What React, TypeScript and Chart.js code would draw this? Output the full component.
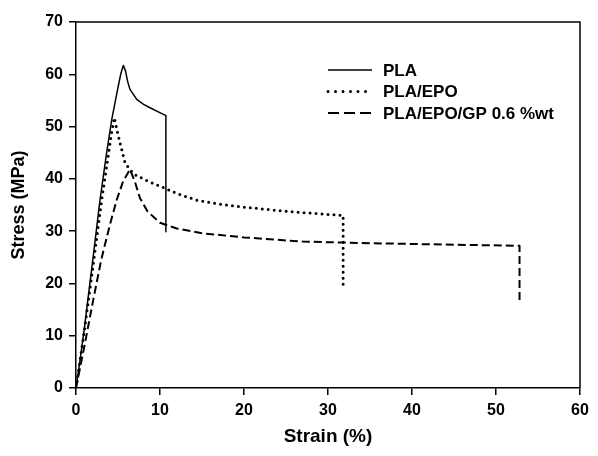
import React, { useEffect, useRef } from "react";
import { Chart, registerables } from "chart.js";

Chart.register(...registerables);

// ---- Data ----
const seriesNames = ["PLA", "PLA/EPO", "PLA/EPO/GP 0.6 %wt"];

const plaStrain = [0, 0.5, 1, 2, 2.86, 3.6, 4.25, 5.0, 5.35, 5.63, 5.9, 6.15, 6.43, 7.23, 8.0, 8.81, 9.8, 10.7, 10.7];
const plaStress = [0, 5.5, 11.5, 24.5, 36, 44.5, 51.3, 57.5, 60.2, 61.7, 60.6, 58.6, 57.1, 55.2, 54.3, 53.6, 52.8, 52.1, 29.9];

const epoStrain = [0, 1, 2, 3.06, 3.8, 4.2, 4.56, 4.85, 5.24, 5.83, 6.4, 7.02, 8.5, 10, 12, 14.4, 17, 20, 23, 26.7, 29, 31.8, 31.8];
const epoStress = [0, 11, 23, 36, 44, 48.5, 51.7, 49.5, 46.9, 43.1, 41.8, 40.8, 39.6, 38.6, 37.2, 35.9, 35.2, 34.6, 34.1, 33.6, 33.3, 33.0, 19.4];

const gpStrain = [0, 1, 2.06, 3, 4, 4.85, 5.6, 6.43, 7.0, 7.62, 8.5, 10, 12, 15, 20, 27, 35, 45, 52.8, 52.8];
const gpStress = [0, 8, 16.9, 24.5, 31, 36, 39.5, 41.8, 39.5, 36.3, 33.8, 31.6, 30.5, 29.6, 28.8, 28.0, 27.7, 27.4, 27.2, 16.2];

const xTickValues = [0, 10, 20, 30, 40, 50, 60];
const yTickValues = [0, 10, 20, 30, 40, 50, 60, 70];

const toPoints = (xs: number[], ys: number[]) => xs.map((x, i) => ({ x, y: ys[i] }));

const lineStyles = [
  { borderWidth: 1.5, borderDash: [] as number[], cap: "butt" as CanvasLineCap },
  { borderWidth: 3, borderDash: [0, 6], cap: "round" as CanvasLineCap },
  { borderWidth: 2, borderDash: [8, 4], cap: "butt" as CanvasLineCap },
];

const FONT = "'Liberation Sans', Arial, sans-serif";

const framePlugin = {
  id: "frame",
  afterDraw(chart: any) {
    const { ctx, chartArea } = chart;
    ctx.save();
    ctx.strokeStyle = "#000";
    ctx.lineWidth = 1.5;
    ctx.beginPath();
    ctx.moveTo(chartArea.left, chartArea.top);
    ctx.lineTo(chartArea.right, chartArea.top);
    ctx.lineTo(chartArea.right, chartArea.bottom);
    ctx.stroke();
    ctx.restore();
  },
};

const legendPlugin = {
  id: "customLegend",
  afterDraw(chart: any) {
    const { ctx } = chart;
    const x0 = 328;
    const x1 = 372;
    const tx = 383;
    const rows = [70, 91.5, 113];
    ctx.save();
    seriesNames.forEach((name, i) => {
      const st = lineStyles[i];
      const y = rows[i];
      ctx.beginPath();
      ctx.strokeStyle = "#000";
      ctx.lineWidth = st.borderWidth;
      ctx.lineCap = st.cap;
      ctx.setLineDash(i === 1 ? [0, 7.5] : i === 2 ? [11, 5] : []);
      ctx.moveTo(x0, y);
      ctx.lineTo(x1, y);
      ctx.stroke();
      ctx.setLineDash([]);
      ctx.fillStyle = "#000";
      ctx.font = `bold 17px ${FONT}`;
      ctx.textBaseline = "middle";
      ctx.textAlign = "left";
      ctx.fillText(name, tx, y + 1);
    });
    ctx.restore();
  },
};

export default function App() {
  const ref = useRef<HTMLCanvasElement | null>(null);

  useEffect(() => {
    if (!ref.current) return;
    const seriesData = [
      toPoints(plaStrain, plaStress),
      toPoints(epoStrain, epoStress),
      toPoints(gpStrain, gpStress),
    ];
    const tickFont = { family: FONT, size: 16, weight: "bold" as const };
    const chart = new Chart(ref.current, {
      type: "scatter",
      data: {
        datasets: seriesData.map((d, i) => ({
          label: seriesNames[i],
          data: d,
          showLine: true,
          borderColor: "#000",
          backgroundColor: "#000",
          borderWidth: lineStyles[i].borderWidth,
          borderDash: lineStyles[i].borderDash,
          borderCapStyle: lineStyles[i].cap,
          borderJoinStyle: "round",
          pointRadius: 0,
          pointHoverRadius: 0,
          tension: 0,
          fill: false,
        })),
      },
      options: {
        responsive: false,
        animation: false,
        events: [],
        layout: { padding: { top: 22, right: 18, left: 0, bottom: 0 } },
        plugins: {
          legend: { display: false },
          tooltip: { enabled: false },
        },
        scales: {
          x: {
            type: "linear",
            min: 0,
            max: 60,
            afterBuildTicks: (scale: any) => {
              scale.ticks = xTickValues.map((v) => ({ value: v }));
            },
            afterFit: (scale: any) => {
              scale.height = 68;
            },
            ticks: { color: "#000", font: tickFont, padding: 6, maxRotation: 0 },
            grid: {
              display: true,
              drawOnChartArea: false,
              drawTicks: true,
              tickLength: 7,
              color: "#000",
              lineWidth: 1.5,
            },
            border: { display: true, color: "#000", width: 1.5 },
            title: {
              display: true,
              text: "Strain (%)",
              color: "#000",
              font: { family: FONT, size: 19, weight: "bold" },
              padding: { top: 0, bottom: 8 },
            },
          },
          y: {
            type: "linear",
            min: 0,
            max: 70,
            afterBuildTicks: (scale: any) => {
              scale.ticks = yTickValues.map((v) => ({ value: v }));
            },
            afterFit: (scale: any) => {
              scale.width = 76;
            },
            ticks: { color: "#000", font: tickFont, padding: 6 },
            grid: {
              display: true,
              drawOnChartArea: false,
              drawTicks: true,
              tickLength: 7,
              color: "#000",
              lineWidth: 1.5,
            },
            border: { display: true, color: "#000", width: 1.5 },
            title: {
              display: true,
              text: "Stress (MPa)",
              color: "#000",
              font: { family: FONT, size: 18, weight: "bold" },
              padding: { top: 8, bottom: 0 },
            },
          },
        },
      },
      plugins: [framePlugin, legendPlugin],
    });
    return () => chart.destroy();
  }, []);

  return (
    <div style={{ position: "fixed", left: 0, top: 0, width: 598, height: 456, background: "#fff" }}>
      <canvas ref={ref} width={598} height={456} style={{ display: "block" }} />
    </div>
  );
}
